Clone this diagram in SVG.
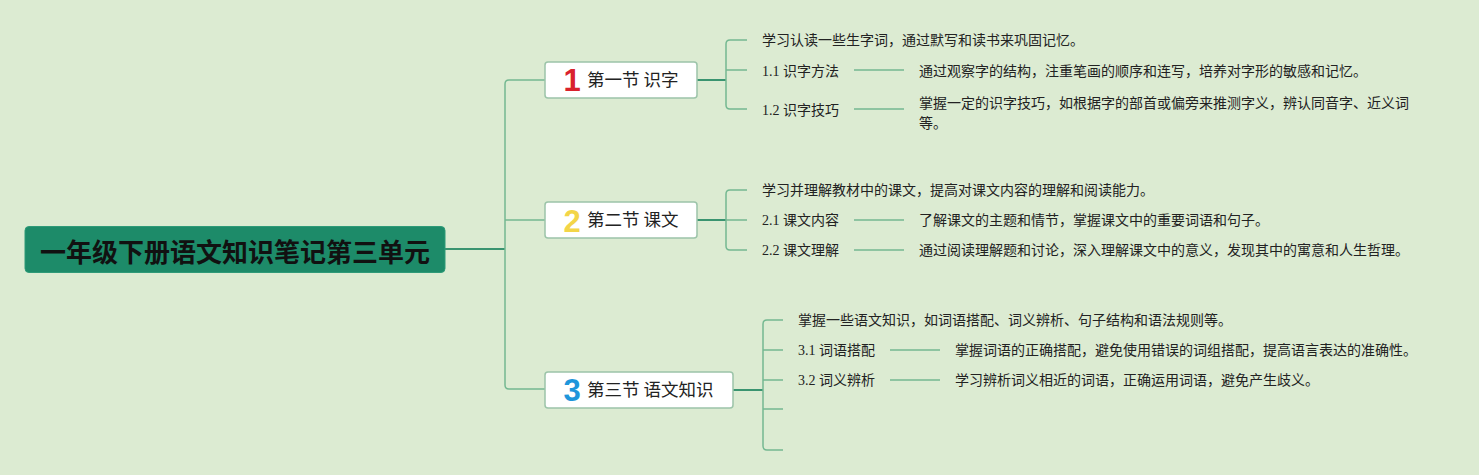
<svg xmlns="http://www.w3.org/2000/svg" width="1479" height="475" viewBox="0 0 1479 475">
<style>
.t{font-family:"Liberation Serif","Noto Sans CJK SC",serif;font-size:14px;fill:#222}
.c{font-family:"Noto Sans CJK SC","Noto Sans",sans-serif;font-size:14px;fill:#222}
.sec{font-family:"Noto Sans CJK SC","Noto Sans",sans-serif;font-size:17.5px;fill:#222}
.num{font-family:"Liberation Sans Narrow","Liberation Sans","Noto Sans",sans-serif;font-size:31px;font-weight:bold}
.box{fill:#ffffff;stroke:#9cc4a9;stroke-width:1.5}
.ln{fill:none;stroke:#74b891;stroke-width:1.5}
.dk{fill:none;stroke:#3a9470;stroke-width:2}
</style>
<rect width="1479" height="475" fill="#dcebd2"/>
<g id="connectors">
<path class="dk" d="M445 249H505"/>
<path class="ln" d="M545 80H509Q505 80 505 84V385Q505 389 509 389H545M505 220H545"/>
<path class="dk" d="M697 80H726M697 220H726M733 390H763"/>
<path class="ln" d="M747 40H730Q726 40 726 44V105Q726 109 730 109H747M726 70H747"/>
<path class="ln" d="M854 70H904M854 109H904"/>
<path class="ln" d="M747 190H730Q726 190 726 194V246Q726 250 730 250H747M726 220H747"/>
<path class="ln" d="M854 220H904M854 250H904"/>
<path class="ln" d="M783 320H767Q763 320 763 324V446Q763 450 767 450H783M763 350H783M763 380H783M763 409H783"/>
<path class="ln" d="M890 350H940M890 380H940"/>
</g>
<g id="root">
<rect x="25" y="226.5" width="420" height="46" rx="4" fill="#1d8b69" stroke="#2f9a78" stroke-width="1"/>
<text x="40" y="262" style="font-family:'Noto Sans CJK SC','Noto Sans',sans-serif;font-size:26px;font-weight:bold;fill:#111">一年级下册语文知识笔记第三单元</text>
</g>
<g id="sec1">
<rect class="box" x="545" y="62" width="152" height="36" rx="3"/>
<text class="num" x="572" y="91" text-anchor="middle" fill="#d9222d">1</text>
<text class="sec" x="587" y="86">第一节 识字</text>
</g>
<g id="sec2">
<rect class="box" x="545" y="202" width="152" height="36" rx="3"/>
<text class="num" x="572" y="231.5" text-anchor="middle" fill="#f3d548">2</text>
<text class="sec" x="587" y="226">第二节 课文</text>
</g>
<g id="sec3">
<rect class="box" x="545" y="372" width="188" height="36" rx="3"/>
<text class="num" x="572" y="401" text-anchor="middle" fill="#1e96db">3</text>
<text class="sec" x="587" y="396">第三节 语文知识</text>
</g>
<g id="n1-0"><text class="c" x="762" y="45">学习认读一些生字词，通过默写和读书来巩固记忆。</text></g>
<g id="n1-1"><text class="t" x="762" y="76">1.1 识字方法</text></g>
<g id="n1-1a"><text class="c" x="919" y="76">通过观察字的结构，注重笔画的顺序和连写，培养对字形的敏感和记忆。</text></g>
<g id="n1-2"><text class="t" x="762" y="115">1.2 识字技巧</text></g>
<g id="n1-2a"><text class="c" x="919" y="107.5">掌握一定的识字技巧，如根据字的部首或偏旁来推测字义，辨认同音字、近义词</text><text class="c" x="919" y="128">等。</text></g>
<g id="n2-0"><text class="c" x="762" y="195">学习并理解教材中的课文，提高对课文内容的理解和阅读能力。</text></g>
<g id="n2-1"><text class="t" x="762" y="225">2.1 课文内容</text></g>
<g id="n2-1a"><text class="c" x="919" y="225">了解课文的主题和情节，掌握课文中的重要词语和句子。</text></g>
<g id="n2-2"><text class="t" x="762" y="255">2.2 课文理解</text></g>
<g id="n2-2a"><text class="c" x="919" y="255">通过阅读理解题和讨论，深入理解课文中的意义，发现其中的寓意和人生哲理。</text></g>
<g id="n3-0"><text class="c" x="798" y="325">掌握一些语文知识，如词语搭配、词义辨析、句子结构和语法规则等。</text></g>
<g id="n3-1"><text class="t" x="798" y="355">3.1 词语搭配</text></g>
<g id="n3-1a"><text class="c" x="955" y="355">掌握词语的正确搭配，避免使用错误的词组搭配，提高语言表达的准确性。</text></g>
<g id="n3-2"><text class="t" x="798" y="385">3.2 词义辨析</text></g>
<g id="n3-2a"><text class="c" x="955" y="385">学习辨析词义相近的词语，正确运用词语，避免产生歧义。</text></g>
</svg>
